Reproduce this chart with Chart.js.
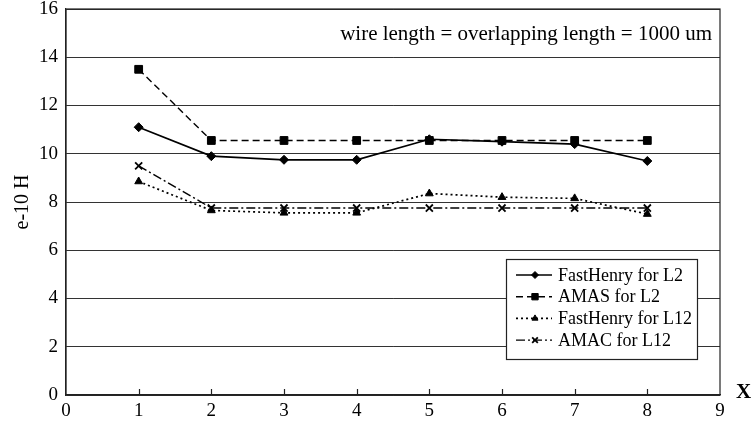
<!DOCTYPE html>
<html>
<head>
<meta charset="utf-8">
<script src="https://cdn.jsdelivr.net/npm/chart.js@4.4.0/dist/chart.umd.min.js"></script>
<style>
  html, body { margin: 0; padding: 0; background: #fff; }
  #wrap { width: 752px; height: 428px; }
</style>
</head>
<body>
<div id="wrap"><canvas id="chart" width="752" height="428"></canvas></div>
<script>
// Data
const xValues = [1, 2, 3, 4, 5, 6, 7, 8];
const fastHenryL2 = [11.1, 9.9, 9.75, 9.75, 10.6, 10.5, 10.4, 9.7];
const amasL2 = [13.5, 10.55, 10.55, 10.55, 10.55, 10.55, 10.55, 10.55];
const fastHenryL12 = [8.85, 7.65, 7.55, 7.55, 8.35, 8.2, 8.15, 7.5];
const amacL12 = [9.5, 7.75, 7.75, 7.75, 7.75, 7.75, 7.75, 7.75];
const seriesLabels = ['FastHenry for L2', 'AMAS for L2', 'FastHenry for L12', 'AMAC for L12'];
const noteText = 'wire length = overlapping length = 1000 um';

const FONT = '"Liberation Serif", "Times New Roman", serif';
const INK = '#000';

const toPoints = arr => arr.map((v, i) => ({ x: xValues[i], y: v }));

const styles = [
    { dash: [], width: 1.7, point: 'rectRot', radius: 4.5 },
    { dash: [7, 4], width: 1.4, point: 'rect', radius: 5.5 },
    { dash: [2, 3], width: 1.7, point: 'triangle', radius: 4.5 },
    { dash: [9, 3, 2, 3], width: 1.4, point: 'crossRot', radius: 5 }
];

const datasets = [fastHenryL2, amasL2, fastHenryL12, amacL12].map((arr, i) => ({
    label: seriesLabels[i],
    data: toPoints(arr),
    borderColor: INK,
    backgroundColor: INK,
    borderWidth: styles[i].width,
    borderDash: styles[i].dash,
    pointStyle: styles[i].point,
    pointRadius: styles[i].radius,
    pointBorderWidth: styles[i].point === 'crossRot' ? 1.8 : 1,
    pointBorderColor: INK,
    pointBackgroundColor: INK,
    tension: 0,
    fill: false
}));

// frame, inner x ticks, note text, X label and legend box
const extras = {
    id: 'extras',
    afterDraw(chart) {
        const { ctx, chartArea: a, scales } = chart;
        ctx.save();
        ctx.strokeStyle = '#222';
        ctx.lineWidth = 1.2;
        ctx.setLineDash([]);
        ctx.strokeRect(a.left, a.top, a.right - a.left, a.bottom - a.top);

        // small tick marks pointing up from the x axis
        for (let v = 1; v <= 8; v++) {
            const px = Math.round(scales.x.getPixelForValue(v)) + 0.5;
            ctx.beginPath();
            ctx.moveTo(px, a.bottom);
            ctx.lineTo(px, a.bottom - 6);
            ctx.stroke();
        }

        ctx.fillStyle = INK;
        ctx.font = '21px ' + FONT;
        ctx.textBaseline = 'middle';
        ctx.textAlign = 'right';
        ctx.fillText(noteText, a.right - 8, a.top + 25);

        ctx.font = 'bold 21px ' + FONT;
        ctx.textAlign = 'left';
        ctx.fillText('X', a.right + 16, a.bottom - 2);

        // legend
        const bx = 506, by = 259, bw = 191, bh = 100;
        ctx.fillStyle = '#fff';
        ctx.fillRect(bx, by, bw, bh);
        ctx.lineWidth = 1.2;
        ctx.strokeStyle = '#222';
        ctx.strokeRect(bx + 0.5, by + 0.5, bw, bh);
        ctx.font = '18px ' + FONT;
        chart.data.datasets.forEach((ds, i) => {
            const y = by + 16 + i * 21.7;
            ctx.strokeStyle = INK;
            ctx.lineWidth = ds.borderWidth;
            ctx.setLineDash(ds.borderDash);
            ctx.beginPath();
            ctx.moveTo(bx + 10, y);
            ctx.lineTo(bx + 46, y);
            ctx.stroke();
            ctx.setLineDash([]);
            ctx.fillStyle = INK;
            ctx.lineWidth = ds.pointBorderWidth;
            Chart.helpers.drawPoint(ctx, {
                pointStyle: ds.pointStyle,
                radius: ds.pointRadius - 1,
                borderWidth: ds.pointBorderWidth,
                rotation: 0
            }, bx + 29, y);
            ctx.fillStyle = INK;
            ctx.textAlign = 'left';
            ctx.fillText(ds.label, bx + 52, y + 1);
        });
        ctx.restore();
    }
};

new Chart(document.getElementById('chart'), {
    type: 'line',
    data: { datasets },
    options: {
        responsive: false,
        animation: false,
        layout: { padding: { top: 9, right: 32, left: 0, bottom: 0 } },
        plugins: { legend: { display: false }, tooltip: { enabled: false } },
        scales: {
            x: {
                type: 'linear',
                min: 0, max: 9,
                ticks: { stepSize: 1, color: INK, font: { family: FONT, size: 19 }, padding: 5 },
                grid: { display: false, drawTicks: false },
                border: { display: true, color: '#222', width: 1.2 },
                afterFit(s) { s.height = 33; s.paddingRight = 0; s.paddingLeft = 0; }
            },
            y: {
                min: 0, max: 16,
                ticks: { stepSize: 2, color: INK, font: { family: FONT, size: 19 }, padding: 8 },
                grid: { color: '#333', lineWidth: 1, drawTicks: false },
                border: { display: true, color: '#222', width: 1.2 },
                title: { display: true, text: 'e-10 H', color: INK, font: { family: FONT, size: 20 }, padding: { top: 11, bottom: 2 } },
                afterFit(s) { s.width = 66; s.paddingTop = 0; s.paddingBottom = 0; }
            }
        }
    },
    plugins: [extras]
});
</script>
</body>
</html>
